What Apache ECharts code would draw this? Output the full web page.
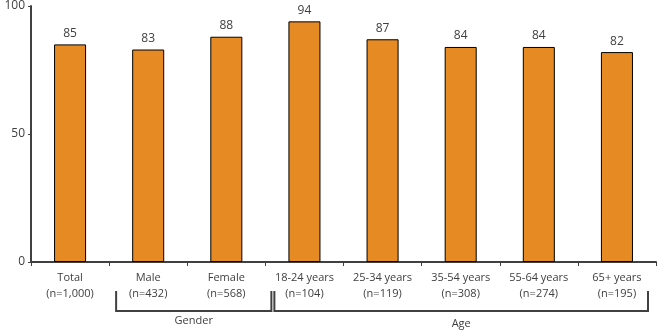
<!DOCTYPE html>
<html><head><meta charset="utf-8">
<script src="https://cdn.jsdelivr.net/npm/echarts@6/dist/echarts.min.js"></script>
<style>html,body{margin:0;padding:0;background:#fff}#c{width:660px;height:334px}</style>
</head><body><div id="c"></div>
<script>
const categories = ['Total\n(n=1,000)','Male\n(n=432)','Female\n(n=568)','18-24 years\n(n=104)','25-34 years\n(n=119)','35-54 years\n(n=308)','55-64 years\n(n=274)','65+ years\n(n=195)'];
const values = [85, 83, 88, 94, 87, 84, 84, 82];
const groups = [{name:'Gender', from:1, to:2}, {name:'Age', from:3, to:7}];
const yTicks = [0, 50, 100];

const FONT = '"Open Sans", "Noto Sans", sans-serif';
const TXT = '#404040';
const chart = echarts.init(document.getElementById('c'), null, {renderer:'canvas'});
chart.setOption({
  animation:false,
  grid:{left:31, right:4, top:6, bottom:72, containLabel:false},
  xAxis:{type:'category', data:categories,
    axisLine:{lineStyle:{color:'#404040', width:2}},
    axisTick:{show:true, length:4, lineStyle:{color:'#404040'}},
    axisLabel:{color:TXT, fontSize:11, fontFamily:FONT, lineHeight:16, margin:8, interval:0}},
  yAxis:{type:'value', min:0, max:100, interval:50,
    axisLine:{show:true, lineStyle:{color:'#404040', width:2}},
    axisTick:{show:true, length:3, lineStyle:{color:'#404040'}},
    splitLine:{show:false},
    axisLabel:{color:TXT, fontSize:12, fontFamily:FONT, margin:6}},
  series:[{type:'bar', data:values, barWidth:'41%',
    itemStyle:{color:'#E68A24', borderColor:'#000', borderWidth:1},
    label:{show:true, position:'top', distance:5, color:TXT, fontSize:12, fontFamily:FONT}}]
});

function drawGroups(){
  const els = [];
  const top = 291, bot = 311;
  const half = chart.convertToPixel({xAxisIndex:0}, 1) - chart.convertToPixel({xAxisIndex:0}, 0);
  groups.forEach((g, i) => {
    const x1 = chart.convertToPixel({xAxisIndex:0}, g.from) - half/2 + (i===0?7:9);
    const x2 = chart.convertToPixel({xAxisIndex:0}, g.to) + half/2 + (i===0?6:-8);
    els.push({type:'polyline', shape:{points:[[x1,top],[x1,bot],[x2,bot],[x2,top]]},
      style:{stroke:'#404040', lineWidth:2, fill:null}});
    els.push({type:'text', x:(x1+x2)/2, y:(i===0?321:324),
      style:{text:g.name, fill:TXT, font:'11px '+FONT, textAlign:'center', textVerticalAlign:'middle'}});
  });
  chart.setOption({graphic:els});
}
drawGroups();
</script></body></html>
